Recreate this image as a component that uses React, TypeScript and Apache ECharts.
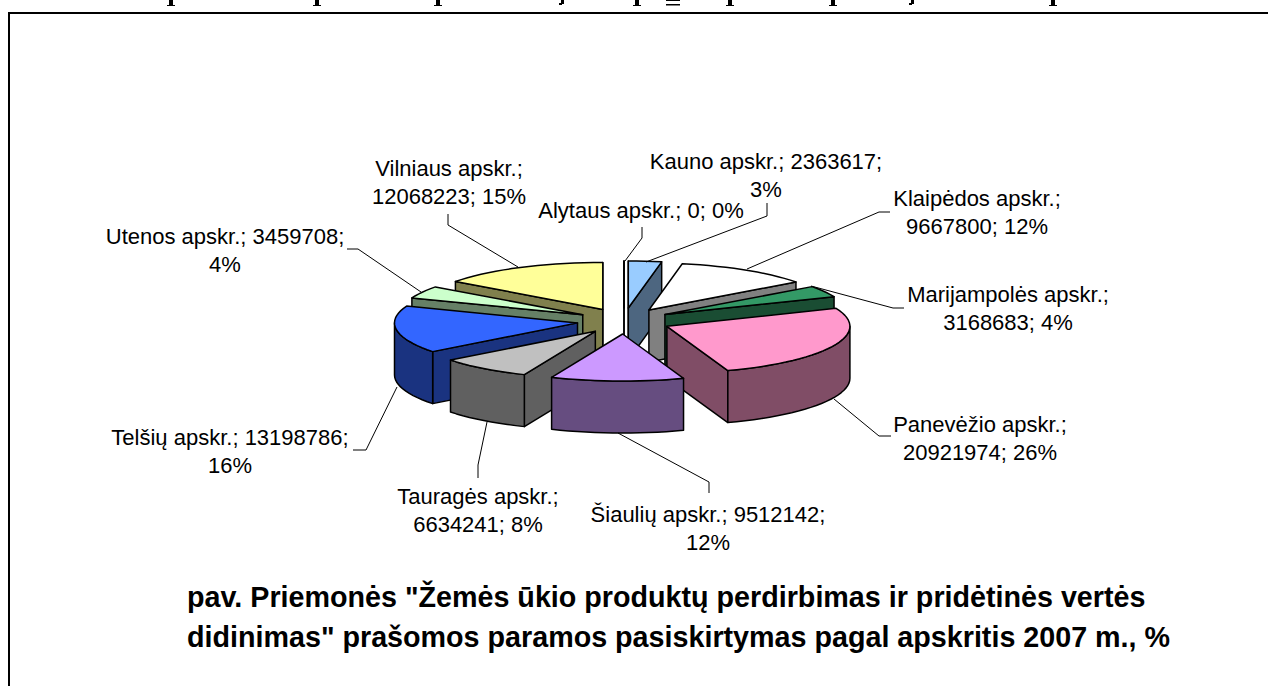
import React, { useEffect, useRef } from "react";
import * as echarts from "echarts";

const names = ["Alytaus apskr.", "Kauno apskr.", "Klaipėdos apskr.", "Marijampolės apskr.", "Panevėžio apskr.", "Šiaulių apskr.", "Tauragės apskr.", "Telšių apskr.", "Utenos apskr.", "Vilniaus apskr."];
const values = [0, 2363617, 9667800, 3168683, 20921974, 9512142, 6634241, 13198786, 3459708, 12068223];
const topColors = ["#FFFFFF", "#99CCFF", "#FFFFFF", "#339966", "#FF99CC", "#CC99FF", "#C0C0C0", "#3366FF", "#CCFFCC", "#FFFF99"];
const sideColors = ["#808080", "#4D6680", "#808080", "#1A4D33", "#804D66", "#664D80", "#606060", "#1A3380", "#668066", "#80804D"];
const drawOrder = [0, 1, 9, 2, 8, 3, 7, 4, 6, 5];
const captionLines = [
  'pav. Priemonės "Žemės ūkio produktų perdirbimas ir pridėtinės vertės',
  'didinimas" prašomos paramos pasiskirtymas pagal apskritis 2007 m., %',
];

// label layout: centre x, first-line centre y, number of the "; " parts on the first line
const labelLayout = [
  { x: 641, y: 210, first: 3 },
  { x: 766, y: 161, first: 2 },
  { x: 977, y: 198, first: 1 },
  { x: 1008, y: 294, first: 1 },
  { x: 980, y: 424, first: 1 },
  { x: 708, y: 514, first: 2 },
  { x: 478, y: 496, first: 1 },
  { x: 230, y: 437, first: 2 },
  { x: 225, y: 236, first: 2 },
  { x: 449, y: 168, first: 1 },
];
const leaders = [
  [[642, 227], [642, 238], [625, 261]],
  [[767, 203], [767, 216], [646, 262]],
  [[890, 212], [879, 212], [747, 269]],
  [[904, 308], [893, 308], [811, 286]],
  [[891, 436], [879, 436], [834, 399]],
  [[709, 493], [709, 482], [618, 433]],
  [[478, 478], [478, 465], [487, 422]],
  [[353, 450], [366, 450], [397, 387]],
  [[347, 249], [358, 249], [421, 292]],
  [[448, 214], [448, 225], [518, 267]],
];
const clippedStems = [171, 317, 438, 637, 730, 1053, 833];
const clippedTails = [562, 912];

const geo = { cx: 624, cy: 321, rx: 183, ry: 47, ex: 47, ey: 13, h: 52 };
const total = values.reduce((a, b) => a + b, 0);
const RAD = Math.PI / 180;

function sliceAngles(i: number) {
  let before = 0;
  for (let k = 0; k < i; k++) before += values[k];
  const s = (before / total) * 360;
  const e = ((before + values[i]) / total) * 360;
  return { s, e };
}

function renderSlice(params: any) {
  const i = drawOrder[params.dataIndex];
  const { s, e } = sliceAngles(i);
  const mid = ((s + e) / 2) * RAD;
  const ax = geo.cx + geo.ex * Math.sin(mid);
  const ay = geo.cy - geo.ey * Math.cos(mid);
  const pt = (deg: number, dy = 0) => [
    ax + geo.rx * Math.sin(deg * RAD),
    ay - geo.ry * Math.cos(deg * RAD) + dy,
  ];
  const arc = (from: number, to: number, dy = 0) => {
    const n = Math.max(2, Math.ceil((to - from) / 3));
    const out: number[][] = [];
    for (let k = 0; k <= n; k++) out.push(pt(from + ((to - from) * k) / n, dy));
    return out;
  };
  const edge = { stroke: "#000000", lineWidth: 1.5, lineJoin: "round" };
  const side = { fill: sideColors[i], ...edge };
  const children: any[] = [];
  const face = (deg: number) => ({
    type: "polygon",
    shape: { points: [[ax, ay], pt(deg), pt(deg, geo.h), [ax, ay + geo.h]] },
    style: side,
  });
  if (Math.sin(s * RAD) <= 1e-6) children.push(face(s));
  if (Math.sin(e * RAD) >= -1e-6) children.push(face(e));
  const ws = Math.max(s, 90);
  const we = Math.min(e, 270);
  if (we > ws) {
    children.push({
      type: "polygon",
      shape: { points: [...arc(ws, we), ...arc(ws, we, geo.h).reverse()] },
      style: side,
    });
  }
  children.push({
    type: "polygon",
    shape: { points: [[ax, ay], ...arc(s, e)] },
    style: { fill: topColors[i], ...edge },
  });
  return { type: "group", children };
}

function labelText(i: number) {
  const pct = Math.round((values[i] / total) * 100);
  const parts = [names[i], String(values[i]), pct + "%"];
  const first = labelLayout[i].first;
  const a = parts.slice(0, first).join("; ");
  const b = parts.slice(first).join("; ");
  return b ? [a + ";", b] : [a];
}

export default function App() {
  const ref = useRef<HTMLDivElement>(null);
  useEffect(() => {
    document.body.style.margin = "0";
    document.body.style.overflow = "hidden";
    const chart = echarts.init(ref.current!, null, { renderer: "svg" });
    const font = "Liberation Sans";
    const graphics: any[] = [
      {
        type: "polyline",
        silent: true,
        shape: { points: [[9, 686], [9, 13], [1268, 13]] },
        style: { stroke: "#000", lineWidth: 2, fill: "none" },
      },
    ];
    clippedStems.forEach((x) => {
      graphics.push({ type: "rect", shape: { x: x - 2, y: 0, width: 4, height: 5 }, style: { fill: "#000" } });
      graphics.push({ type: "rect", shape: { x: x - 4, y: 5, width: 8, height: 1 }, style: { fill: "#000" } });
    });
    clippedTails.forEach((x) => {
      graphics.push({ type: "rect", shape: { x: x - 1, y: 0, width: 3, height: 4 }, style: { fill: "#000" } });
      graphics.push({ type: "rect", shape: { x: x - 3, y: 3, width: 3, height: 2 }, style: { fill: "#000" } });
    });
    graphics.push({ type: "rect", shape: { x: 666, y: 0, width: 14, height: 1 }, style: { fill: "#000" } });
    graphics.push({ type: "rect", shape: { x: 666, y: 4, width: 14, height: 1.5 }, style: { fill: "#000" } });
    leaders.forEach((pts) => {
      graphics.push({
        type: "polyline",
        silent: true,
        z: 5,
        shape: { points: pts },
        style: { stroke: "#000", lineWidth: 1, fill: "none" },
      });
    });
    names.forEach((_, i) => {
      const { x, y } = labelLayout[i];
      labelText(i).forEach((line, k) => {
        graphics.push({
          type: "text",
          x,
          y: y + k * 28,
          z: 6,
          style: {
            text: line,
            fill: "#000",
            font: `22px "${font}"`,
            textAlign: "center",
            textVerticalAlign: "middle",
          },
        });
      });
    });
    captionLines.forEach((line, k) => {
      graphics.push({
        type: "text",
        x: 187,
        y: 597 + k * 40,
        z: 6,
        style: {
          text: line,
          fill: "#000",
          font: `bold 28.7px "${font}"`,
          textAlign: "left",
          textVerticalAlign: "middle",
        },
      });
    });
    chart.setOption({
      animation: false,
      backgroundColor: "#FFFFFF",
      graphic: graphics,
      series: [
        {
          type: "custom",
          coordinateSystem: "none",
          silent: true,
          renderItem: renderSlice,
          data: drawOrder.map((i) => values[i]),
        },
      ],
    });
    return () => chart.dispose();
  }, []);
  return <div ref={ref} style={{ width: 1268, height: 686 }} />;
}
